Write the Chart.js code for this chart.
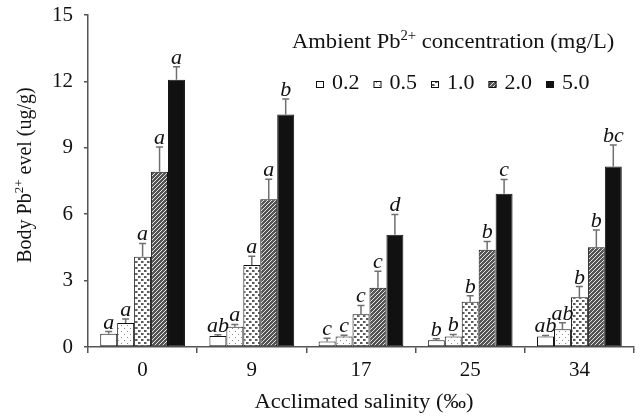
<!DOCTYPE html>
<html><head><meta charset="utf-8">
<style>html,body{margin:0;padding:0;background:#fff}</style>
<script src="https://cdn.jsdelivr.net/npm/chart.js@4/dist/chart.umd.min.js"></script>
</head><body>
<canvas id="c" width="642" height="418"></canvas>
<script>
const categories = ['0', '9', '17', '25', '34'];
const seriesLabels = ['0.2', '0.5', '1.0', '2.0', '5.0'];
const pb02 = [0.60, 0.50, 0.25, 0.30, 0.47];
const pb05 = [1.08, 0.92, 0.47, 0.48, 0.80];
const pb10 = [4.08, 3.70, 1.48, 2.05, 2.25];
const pb20 = [7.92, 6.68, 2.68, 4.39, 4.51];
const pb50 = [12.08, 10.51, 5.07, 6.92, 8.16];
const err02 = [0.10, 0.05, 0.15, 0.07, 0.05];
const err05 = [0.18, 0.10, 0.06, 0.09, 0.30];
const err10 = [0.60, 0.40, 0.40, 0.26, 0.48];
const err20 = [1.12, 0.90, 0.74, 0.38, 0.78];
const err50 = [0.58, 0.70, 0.92, 0.65, 0.97];
const let02 = ['a', 'ab', 'c', 'b', 'ab'];
const let05 = ['a', 'a', 'c', 'b', 'ab'];
const let10 = ['a', 'a', 'c', 'b', 'b'];
const let20 = ['a', 'a', 'c', 'b', 'b'];
const let50 = ['a', 'b', 'd', 'c', 'bc'];
const yTicks = [0, 3, 6, 9, 12, 15];
const xTitle = 'Acclimated salinity (‰)';
const legendTitle = [['Ambient Pb', false], ['2+', true], [' concentration (mg/L)', false]];
const yTitle = [['Body Pb', false], ['2+', true], [' evel (ug/g)', false]];

const SERIF = '"Liberation Serif", "Times New Roman", serif';
const SX = 1.1; // horizontal stretch of the reference lettering

function makePattern(kind) {
  const t = document.createElement('canvas');
  const g = t.getContext('2d');
  if (kind === 'white') { t.width = t.height = 4; g.fillStyle = '#fff'; g.fillRect(0,0,4,4); }
  else if (kind === 'dots') {
    t.width = t.height = 6; g.fillStyle = '#fff'; g.fillRect(0,0,6,6);
    g.fillStyle = '#8a8a8a'; g.fillRect(1,1,1,1); g.fillRect(4,4,1,1);
  } else if (kind === 'check') {
    t.width = t.height = 6; g.fillStyle = '#fff'; g.fillRect(0,0,6,6);
    g.fillStyle = '#5a5a5a'; g.fillRect(0,0,2,2); g.fillRect(3,3,2,2);
    g.fillStyle = '#aaa'; g.fillRect(2,0,1,2); g.fillRect(5,3,1,2);
  } else if (kind === 'hatch') {
    t.width = t.height = 4; g.fillStyle = '#555'; g.fillRect(0,0,4,4);
    g.fillStyle = '#e4e4e4';
    for (let i = 0; i < 4; i++) { g.fillRect(i, 3 - i, 1, 1); }
  } else { t.width = t.height = 4; g.fillStyle = '#111'; g.fillRect(0,0,4,4); }
  return g.createPattern(t, 'repeat');
}

const fills = [makePattern('white'), makePattern('dots'), makePattern('check'), makePattern('hatch'), makePattern('solid')];
const seriesData = [pb02, pb05, pb10, pb20, pb50];
const seriesErr = [err02, err05, err10, err20, err50];
const seriesLet = [let02, let05, let10, let20, let50];

const datasets = seriesLabels.map((lab, i) => ({
  label: lab,
  data: seriesData[i],
  errors: seriesErr[i],
  letters: seriesLet[i],
  backgroundColor: fills[i],
  borderColor: '#111',
  borderWidth: 1,
  borderSkipped: false,
  categoryPercentage: 0.776,
  barPercentage: 1.0
}));

function partsWidth(g, parts, size) {
  let w = 0;
  parts.forEach(([txt, sup]) => {
    g.font = (sup ? Math.round(size * 0.65) : size) + 'px ' + SERIF;
    w += g.measureText(txt).width;
  });
  return w;
}
function drawParts(g, parts, x, y, size) {
  let cx = x;
  parts.forEach(([txt, sup]) => {
    g.font = (sup ? Math.round(size * 0.65) : size) + 'px ' + SERIF;
    g.fillText(txt, cx, sup ? y - size * 0.38 : y);
    cx += g.measureText(txt).width;
  });
}
// text stretched horizontally around anchor
function stretchText(g, txt, x, y, font, align) {
  g.save();
  g.font = font;
  const w = g.measureText(txt).width * SX;
  let left = x;
  if (align === 'center') left = x - w / 2;
  g.translate(left, y);
  g.scale(SX, 1);
  g.textAlign = 'left';
  g.fillText(txt, 0, 0);
  g.restore();
  return w;
}

const annot = {
  id: 'annot',
  afterDatasetsDraw(chart) {
    const g = chart.ctx, ys = chart.scales.y;
    g.save();
    chart.data.datasets.forEach((ds, i) => {
      const meta = chart.getDatasetMeta(i);
      meta.data.forEach((bar, j) => {
        const top = ys.getPixelForValue(ds.data[j] + ds.errors[j]);
        g.strokeStyle = '#707070';
        g.lineWidth = 1.5;
        g.beginPath();
        g.moveTo(bar.x, bar.y); g.lineTo(bar.x, top);
        g.moveTo(bar.x - 3.5, top); g.lineTo(bar.x + 3.5, top);
        g.stroke();
        g.fillStyle = '#111';
        g.textBaseline = 'alphabetic';
        stretchText(g, ds.letters[j], bar.x, top - 3, 'italic 20px ' + SERIF, 'center');
      });
    });
    g.restore();
  },
  afterDraw(chart) {
    const g = chart.ctx;
    const ca = chart.chartArea;
    g.save();
    g.fillStyle = '#111';
    g.textBaseline = 'alphabetic';
    g.textAlign = 'left';
    // legend title (stretched)
    g.save();
    g.translate(292, 48);
    g.scale(1.05, 1);
    drawParts(g, legendTitle, 0, 0, 21.5);
    g.restore();
    // legend items
    let x = 316;
    chart.data.datasets.forEach((ds, i) => {
      g.fillStyle = ds.backgroundColor;
      g.fillRect(x, 81, 8, 7);
      g.strokeStyle = '#111'; g.lineWidth = 1;
      g.strokeRect(x + 0.5, 81.5, 7, 6);
      g.fillStyle = '#111';
      const w = stretchText(g, ds.label, x + 16, 89, '20px ' + SERIF, 'left');
      x += 16 + w + 14;
    });
    // x title
    stretchText(g, xTitle, (ca.left + ca.right) / 2 + 3, 408, '20.5px ' + SERIF, 'center');
    // y title
    const w = partsWidth(g, yTitle, 20);
    g.translate(31, 175);
    g.rotate(-Math.PI / 2);
    g.fillStyle = '#111';
    drawParts(g, yTitle, -w / 2, 0, 20);
    g.restore();
  }
};

new Chart(document.getElementById('c'), {
  type: 'bar',
  data: { labels: categories, datasets },
  options: {
    responsive: false,
    animation: false,
    devicePixelRatio: 1,
    layout: { padding: { top: 15, right: 8, left: 0, bottom: 0 } },
    plugins: { legend: { display: false }, tooltip: { enabled: false } },
    scales: {
      x: {
        grid: { drawOnChartArea: false, drawTicks: true, tickLength: 6, color: '#555', lineWidth: 1.5, offset: true },
        border: { color: '#555', width: 1.5 },
        ticks: { font: { family: SERIF, size: 21 }, color: '#111', padding: 5 },
        afterFit: s => { s.height = 71; s.paddingLeft = 0; s.paddingRight = 0; }
      },
      y: {
        min: 0, max: 15,
        afterBuildTicks: s => { s.ticks = yTicks.map(v => ({ value: v })); },
        grid: { drawOnChartArea: false, drawTicks: true, tickLength: 4, color: '#555', lineWidth: 1.5 },
        border: { color: '#555', width: 1.5 },
        ticks: { font: { family: SERIF, size: 21 }, color: '#111', padding: 11 },
        afterFit: s => { s.width = 88; s.paddingTop = 0; s.paddingBottom = 0; }
      }
    }
  },
  plugins: [annot]
});
</script>
</body></html>
